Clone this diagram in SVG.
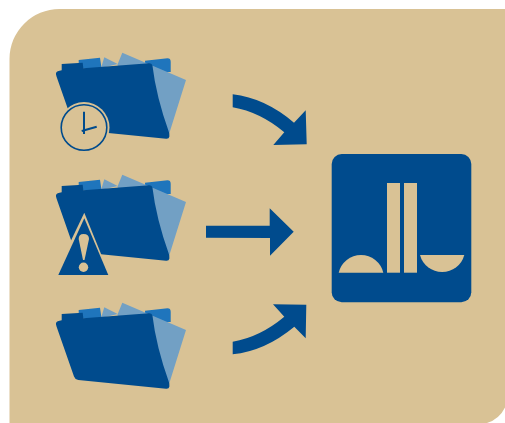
<svg xmlns="http://www.w3.org/2000/svg" width="505" height="423" viewBox="0 0 505 423">
<style>
.bg{fill:#d9c295}.dk{fill:#004b8d}.md{fill:#1f75bc}.lt{fill:#72a0c4}
</style>
<defs>
<g id="folder">
<path class="md" d="M78.7 60L100 57.7L101.5 68L145 66L145 60.7L167.5 58.3Q170.7 58.3 170.7 61.7L170.7 72L120 72L78.7 68Z"/>
<path class="lt" d="M104.3 57.3L117.7 64L101 68Z"/>
<path class="lt" d="M122.3 52.7L186 80L169.3 133.3L140 90L117.3 65Z"/>
<path class="dk" d="M56 74.5Q55.6 71.8 58.5 71L61.7 70.3L61.7 64L82.7 62.7L83.3 68.3L149 63.3Q151.6 63.2 152.4 65.2Q156 96 169.3 133.3L169.4 136.5Q169 139 166 138.7L78.3 130Q75 129.5 74 126.5L56.7 77Z"/>
</g>
</defs>
<path id="background" class="bg" d="M9.5 423L9.5 59A50 50 0 0 1 59.5 9L505 9L505 407.5A30 30 0 0 1 487 423Z"/>
<g id="folder-clock">
<use href="#folder"/>
<circle class="bg" cx="84" cy="127.5" r="25.5"/>
<circle cx="84" cy="127.5" r="22.8" fill="none" stroke="#004b8d" stroke-width="1.6"/>
<path d="M84 111.7V134M81.7 131L96.7 126.7" fill="none" stroke="#004b8d" stroke-width="2"/>
</g>
<g id="folder-warning">
<use href="#folder" y="122"/>
<path class="bg" d="M84.3 212.7L110 276H54Z"/>
<path class="dk" d="M84.3 218.3L108.3 275H58.3Z"/>
<path class="bg" d="M78.7 239Q78.7 234 83.5 234Q89 234 89 239L84.5 260H83Z"/>
<circle class="bg" cx="83.5" cy="267.3" r="4.7"/>
</g>
<g id="folder-plain">
<use href="#folder" y="250"/>
</g>
<g id="connectors">
<path class="dk" d="M232.7 94.3Q265 98 294 122.7L305.7 110.3L306.7 144.3L273.3 145L284.3 132.3Q260 112 232.7 107.3Z"/>
<path class="dk" d="M206 225.7H269.7V208.3L293.7 231.7L270 255.7V238L206 237.7Z"/>
<path class="dk" d="M232.7 341.7Q260 337 284.3 316.7L273 304.3L306.3 304.7L305.7 338.3L294.3 326.7Q265 351 232.7 354.3Z"/>
</g>
<g id="library">
<rect class="dk" x="331.7" y="154" width="139.6" height="148.3" rx="10"/>
<rect class="bg" x="387" y="183" width="13" height="89.7"/>
<rect class="bg" x="404" y="183" width="13" height="89.7"/>
<path class="bg" d="M338.7 272.7A22.9 22.9 0 0 1 383.3 272.7Z"/>
<path class="bg" d="M420 255H464.3A22.9 22.9 0 0 1 420 255Z"/>
</g>
</svg>
